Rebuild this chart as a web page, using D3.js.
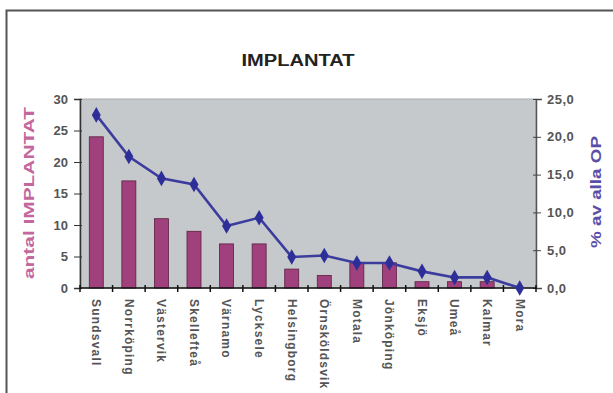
<!DOCTYPE html>
<html>
<head>
<meta charset="utf-8">
<script src="https://cdn.jsdelivr.net/npm/d3@7"></script>
<style>
  html, body { margin: 0; padding: 0; background: #fff; }
  svg { display: block; font-family: "Liberation Sans", Arial, sans-serif; }
</style>
</head>
<body>
<svg id="chart" width="613" height="393"></svg>
<script>
// Implants per clinic and share of all operations
const categories = ["Sundsvall", "Norrköping", "Västervik", "Skellefteå", "Värnamo", "Lycksele",
  "Helsingborg", "Örnsköldsvik", "Motala", "Jönköping", "Eksjö", "Umeå", "Kalmar", "Mora"];
const implantat = [24, 17, 11, 9, 7, 7, 3, 2, 4, 4, 1, 1, 1, 0];
const percentOfOps = [22.9, 17.4, 14.5, 13.7, 8.2, 9.3, 4.1, 4.3, 3.3, 3.3, 2.2, 1.4, 1.4, 0.0];
const leftTicks = [0, 5, 10, 15, 20, 25, 30];
const rightTicks = [0, 5, 10, 15, 20, 25];

const svg = d3.select("#chart");
const plot = { left: 80, right: 536, top: 99, bottom: 288 };

// outer frame
svg.append("rect")
  .attr("x", 6.5).attr("y", 10.5).attr("width", 700).attr("height", 500)
  .attr("fill", "#fff").attr("stroke", "#555").attr("stroke-width", 2);

// scales
const x = d3.scaleBand().domain(categories).range([plot.left, plot.right]).paddingInner(0.57).paddingOuter(0.285);
const xBand = d3.scaleBand().domain(categories).range([plot.left, plot.right]);
const yL = d3.scaleLinear().domain([0, 30]).range([plot.bottom, plot.top]);
const yR = d3.scaleLinear().domain([0, 25]).range([plot.bottom, plot.top]);

// plot area
svg.append("rect")
  .attr("x", plot.left).attr("y", plot.top)
  .attr("width", plot.right - plot.left).attr("height", plot.bottom - plot.top)
  .attr("fill", "#c5c9cb").attr("stroke", "#a9adaf").attr("stroke-width", 1);

// title
svg.append("text")
  .attr("x", 298).attr("y", 66).attr("text-anchor", "middle")
  .attr("font-size", 16).attr("font-weight", "bold").attr("fill", "#222")
  .attr("textLength", 113).attr("lengthAdjust", "spacingAndGlyphs")
  .text("IMPLANTAT");

// bars
svg.append("g").selectAll("rect").data(implantat).join("rect")
  .attr("x", (d, i) => x(categories[i]))
  .attr("y", d => yL(d))
  .attr("width", x.bandwidth())
  .attr("height", d => yL(0) - yL(d))
  .attr("fill", "#a0407c").attr("stroke", "#5a2040").attr("stroke-width", 0.8);

// left axis
const gL = svg.append("g").attr("transform", `translate(${plot.left},0)`)
  .call(d3.axisLeft(yL).tickValues(leftTicks).tickSize(6).tickPadding(6).tickFormat(d3.format("d")));
gL.select(".domain").attr("stroke", "#333").attr("stroke-width", 1.5);
gL.selectAll(".tick line").attr("stroke", "#333").attr("x2", -6).attr("x1", 2);
gL.selectAll("text").attr("font-size", 13).attr("font-weight", "bold").attr("fill", "#555")
  .attr("font-family", "'Liberation Sans', Arial, sans-serif");

// right axis
const commaFmt = d => d.toFixed(1).replace(".", ",");
const gR = svg.append("g").attr("transform", `translate(${plot.right},0)`)
  .call(d3.axisRight(yR).tickValues(rightTicks).tickSize(6).tickPadding(5).tickFormat(commaFmt));
gR.select(".domain").attr("stroke", "#555").attr("stroke-width", 1.5);
gR.selectAll(".tick line").attr("stroke", "#444").attr("x1", -3).attr("x2", 5);
gR.selectAll("text").attr("font-size", 13).attr("font-weight", "bold").attr("fill", "#555")
  .attr("letter-spacing", 0.5)
  .attr("font-family", "'Liberation Sans', Arial, sans-serif");

// category axis
const gX = svg.append("g").attr("transform", `translate(0,${plot.bottom})`);
gX.append("line").attr("x1", plot.left).attr("x2", plot.right)
  .attr("stroke", "#111").attr("stroke-width", 1.5);
const boundaries = categories.map(c => xBand(c)).concat([plot.right]);
gX.selectAll("line.tk").data(boundaries).join("line").attr("class", "tk")
  .attr("x1", d => d).attr("x2", d => d).attr("y1", -3).attr("y2", 4)
  .attr("stroke", "#111").attr("stroke-width", 1.5);
gX.selectAll("text").data(categories).join("text")
  .attr("transform", d => `translate(${xBand(d) + xBand.bandwidth() / 2},${11}) rotate(90)`)
  .attr("dy", "0.35em")
  .attr("font-size", 12).attr("font-weight", "bold").attr("fill", "#555")
  .attr("letter-spacing", 1.2)
  .text(d => d);

// line series on right axis
const cx = (d, i) => xBand(categories[i]) + xBand.bandwidth() / 2;
const line = d3.line().x(cx).y(d => yR(d));
svg.append("path").datum(percentOfOps)
  .attr("d", line).attr("fill", "none")
  .attr("stroke", "#3c3c9e").attr("stroke-width", 2.6);
svg.append("g").selectAll("path").data(percentOfOps).join("path")
  .attr("transform", (d, i) => `translate(${cx(d, i)},${yR(d)})`)
  .attr("d", d3.symbol(d3.symbolDiamond, 70))
  .attr("fill", "#2e2e98");

// axis titles
svg.append("text")
  .attr("transform", "translate(29,193) rotate(-90)")
  .attr("text-anchor", "middle").attr("dy", "0.35em")
  .attr("font-size", 14).attr("font-weight", "bold").attr("fill", "#c4679d")
  .attr("textLength", 172).attr("lengthAdjust", "spacingAndGlyphs")
  .text("antal IMPLANTAT");
svg.append("text")
  .attr("transform", "translate(596,192) rotate(-90)")
  .attr("text-anchor", "middle").attr("dy", "0.35em")
  .attr("font-size", 14).attr("font-weight", "bold").attr("fill", "#5b4ea6")
  .attr("textLength", 112).attr("lengthAdjust", "spacingAndGlyphs")
  .text("% av alla OP");
</script>
</body>
</html>
